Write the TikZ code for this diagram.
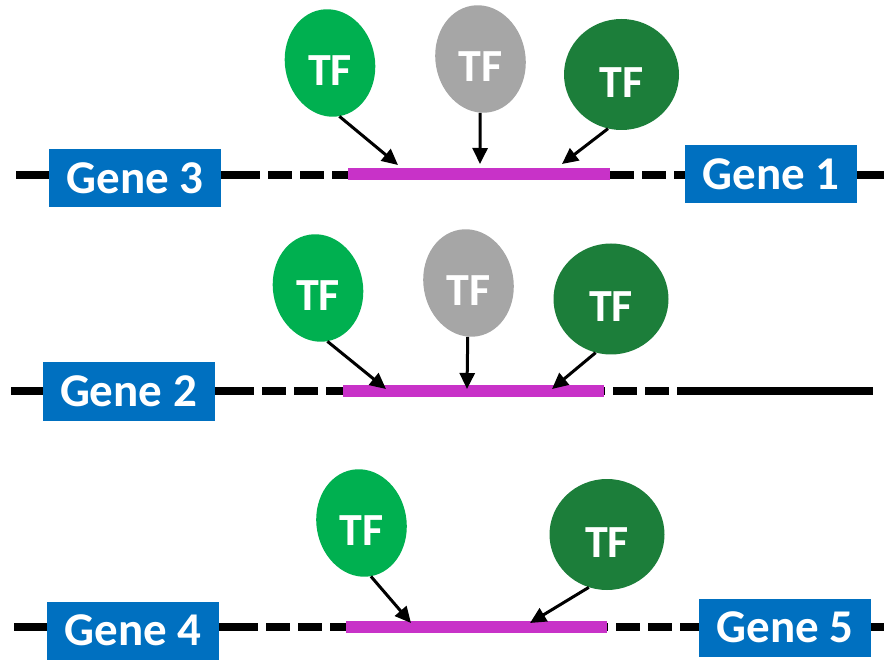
\documentclass[tikz,border=0pt]{standalone}
\usepackage{fontspec}
\setmainfont{Carlito}
\usetikzlibrary{shapes.geometric,arrows.meta}
\definecolor{geneblue}{HTML}{0070C0}
\definecolor{tfgreen}{HTML}{00B050}
\definecolor{tfgray}{HTML}{A6A6A6}
\definecolor{tfdark}{HTML}{1C7E3A}
\definecolor{barmag}{HTML}{C832C8}
\begin{document}
\begin{tikzpicture}[x=1pt,y=-1pt,
 gene/.style={rectangle,fill=geneblue,text=white,minimum width=172pt,minimum height=58pt,inner sep=0pt,font=\bfseries\fontsize{47}{50}\selectfont},
 tfell/.style={ellipse,minimum width=90pt,minimum height=108pt,inner sep=0pt,rotate=10},
 tfround/.style={ellipse,minimum width=115pt,minimum height=111pt,inner sep=0pt},
 tflabel/.style={text=white,font=\bfseries\fontsize{46}{50}\selectfont,inner sep=0pt},
 dna/.style={line width=8.5pt,black},
 dnadash/.style={dna,dash pattern=on 24pt off 8pt},
 sitebar/.style={line width=12pt,barmag},
 arr/.style={line width=3pt,-{Triangle[length=16pt,width=15pt]}}]
\useasboundingbox (0,0) rectangle (884,660);

% ---------- Row 1 ----------
\draw[dna] (16,175) -- (260,175);
\draw[dnadash] (268,175) -- (348,175);
\draw[dnadash] (610,175) -- (686,175);
\draw[dna] (850,175) -- (884,175);
\draw[sitebar] (348,174) -- (610,174);
\node[gene] (g3) at (135,178.5) {Gene 3};
\node[gene] (g1) at (771,174.5) {Gene 1};

\node[tfell,fill=tfgreen] (e11) at (330,63) {};
\node[tflabel] (t11) at ([yshift=-8pt]e11.center) {TF};
\node[tfell,fill=tfgray] (e12) at (480.5,59) {};
\node[tflabel] (t12) at ([yshift=-8pt]e12.center) {TF};
\node[tfround,fill=tfdark] (e13) at (621.5,74.5) {};
\node[tflabel] (t13) at ([yshift=-8pt]e13.center) {TF};
\coordinate (a11) at (398,165);
\coordinate (a12) at (480,164);
\coordinate (a13) at (562,164);
\draw[arr] (e11.south) -- (a11);
\draw[arr] (e12) -- (a12);
\draw[arr] (e13.-104) -- (a13);

% ---------- Row 2 ----------
\draw[dna] (11,391) -- (254,391);
\draw[dnadash] (262,391) -- (343,391);
\draw[dnadash,dash phase=23pt] (604,391) -- (692,391);
\draw[dna] (688,391) -- (873,391);
\draw[sitebar] (343,391.5) -- (604,391.5);
\node[gene] (g2) at (128.5,391.5) {Gene 2};

\node[tfell,fill=tfgreen] (e21) at (318,288) {};
\node[tflabel] (t21) at ([yshift=-8pt]e21.center) {TF};
\node[tfell,fill=tfgray] (e22) at (468.5,283) {};
\node[tflabel] (t22) at ([yshift=-8pt]e22.center) {TF};
\node[tfround,fill=tfdark] (e23) at (611,299) {};
\node[tflabel] (t23) at ([yshift=-8pt]e23.center) {TF};
\coordinate (a21) at (386,389);
\coordinate (a22) at (467,389);
\coordinate (a23) at (552,389);
\draw[arr] (e21.south) -- (a21);
\draw[arr] (e22) -- (a22);
\draw[arr] (e23.-106) -- (a23);

% ---------- Row 3 ----------
\draw[dna] (14,627) -- (258,627);
\draw[dnadash] (266,627) -- (346,627);
\draw[dnadash,dash phase=23pt] (607,627) -- (700,627);
\draw[dna] (860,627) -- (884,627);
\draw[sitebar] (346,627) -- (607,627);
\node[gene] (g4) at (133,630.5) {Gene 4};
\node[gene] (g5) at (785,627.5) {Gene 5};

\node[tfell,fill=tfgreen] (e31) at (361.5,523) {};
\node[tflabel] (t31) at ([yshift=-8pt]e31.center) {TF};
\node[tfround,fill=tfdark] (e32) at (607,534.5) {};
\node[tflabel] (t32) at ([yshift=-8pt]e32.center) {TF};
\coordinate (a31) at (411,623);
\coordinate (a32) at (530,623);
\draw[arr] (e31.south) -- (a31);
\draw[arr] (e32.-109) -- (a32);
\end{tikzpicture}
\end{document}
